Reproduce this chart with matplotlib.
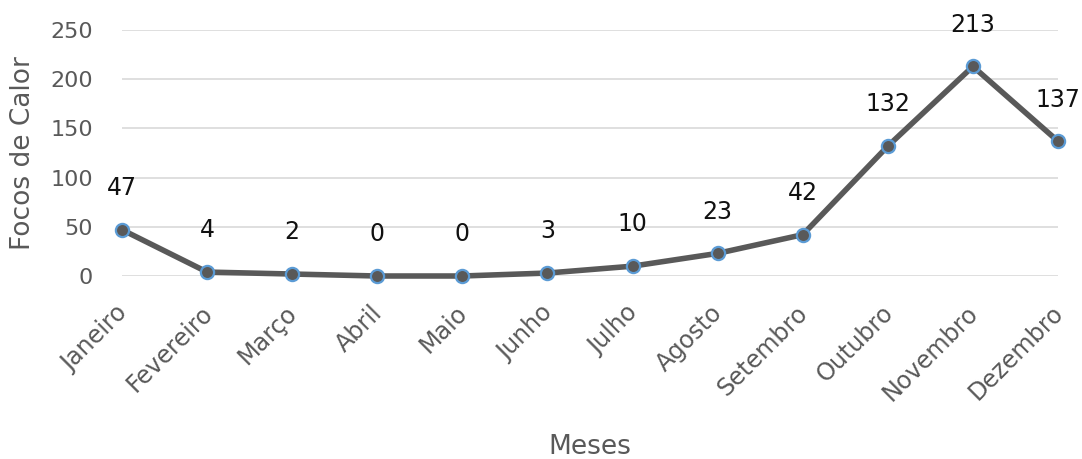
import matplotlib
matplotlib.use("Agg")
import matplotlib.pyplot as plt
from matplotlib.transforms import ScaledTranslation

plt.rcParams['font.family'] = ['DejaVu Sans']

meses = ['Janeiro', 'Fevereiro', 'Março', 'Abril', 'Maio', 'Junho',
         'Julho', 'Agosto', 'Setembro', 'Outubro', 'Novembro', 'Dezembro']
focos = [47, 4, 2, 0, 0, 3, 10, 23, 42, 132, 213, 137]
yticks = [0, 50, 100, 150, 200, 250]

fig = plt.figure(figsize=(10.82, 4.59), dpi=100)
ax = fig.add_axes([0.1128, 0.3987, 0.8650, 0.5359])

x = list(range(len(meses)))
ax.plot(x, focos, color='#595959', linewidth=4, marker='o', markersize=9.5,
        markerfacecolor='#595959', markeredgecolor='#5b9bd5',
        markeredgewidth=1.6, clip_on=False, zorder=3)

for xi, v in zip(x, focos):
    ax.annotate(str(v), (xi, v), xytext=(0, 30), textcoords='offset points',
                ha='center', va='center', fontsize=17, color='#111111')

ax.set_xlim(0, 11)
ax.set_ylim(0, 250)
ax.set_yticks(yticks)
ax.set_xticks(x)
ax.set_xticklabels([])

# rotated month labels, nudged like Excel places them
lbl_trans = ax.get_xaxis_transform() + ScaledTranslation(-7 / 100, -25 / 100, fig.dpi_scale_trans)
for xi, m in zip(x, meses):
    ax.text(xi, 0, m, transform=lbl_trans, rotation=45, rotation_mode='anchor',
            ha='right', va='top', fontsize=17.2, color='#595959')

ax.tick_params(axis='y', labelsize=16, labelcolor='#595959', length=0, pad=21)
ax.tick_params(axis='x', length=0, pad=0)
ax.grid(axis='y', color='#d9d9d9', linewidth=1.2)
ax.set_axisbelow(True)
for s in ax.spines.values():
    s.set_visible(False)

ax.set_xlabel('Meses', fontsize=19, color='#595959', va='center')
ax.xaxis.set_label_coords(0.5, -0.695)
ax.set_ylabel('Focos de Calor', fontsize=19, color='#595959', labelpad=10)

fig.savefig('out.png', dpi=100)
